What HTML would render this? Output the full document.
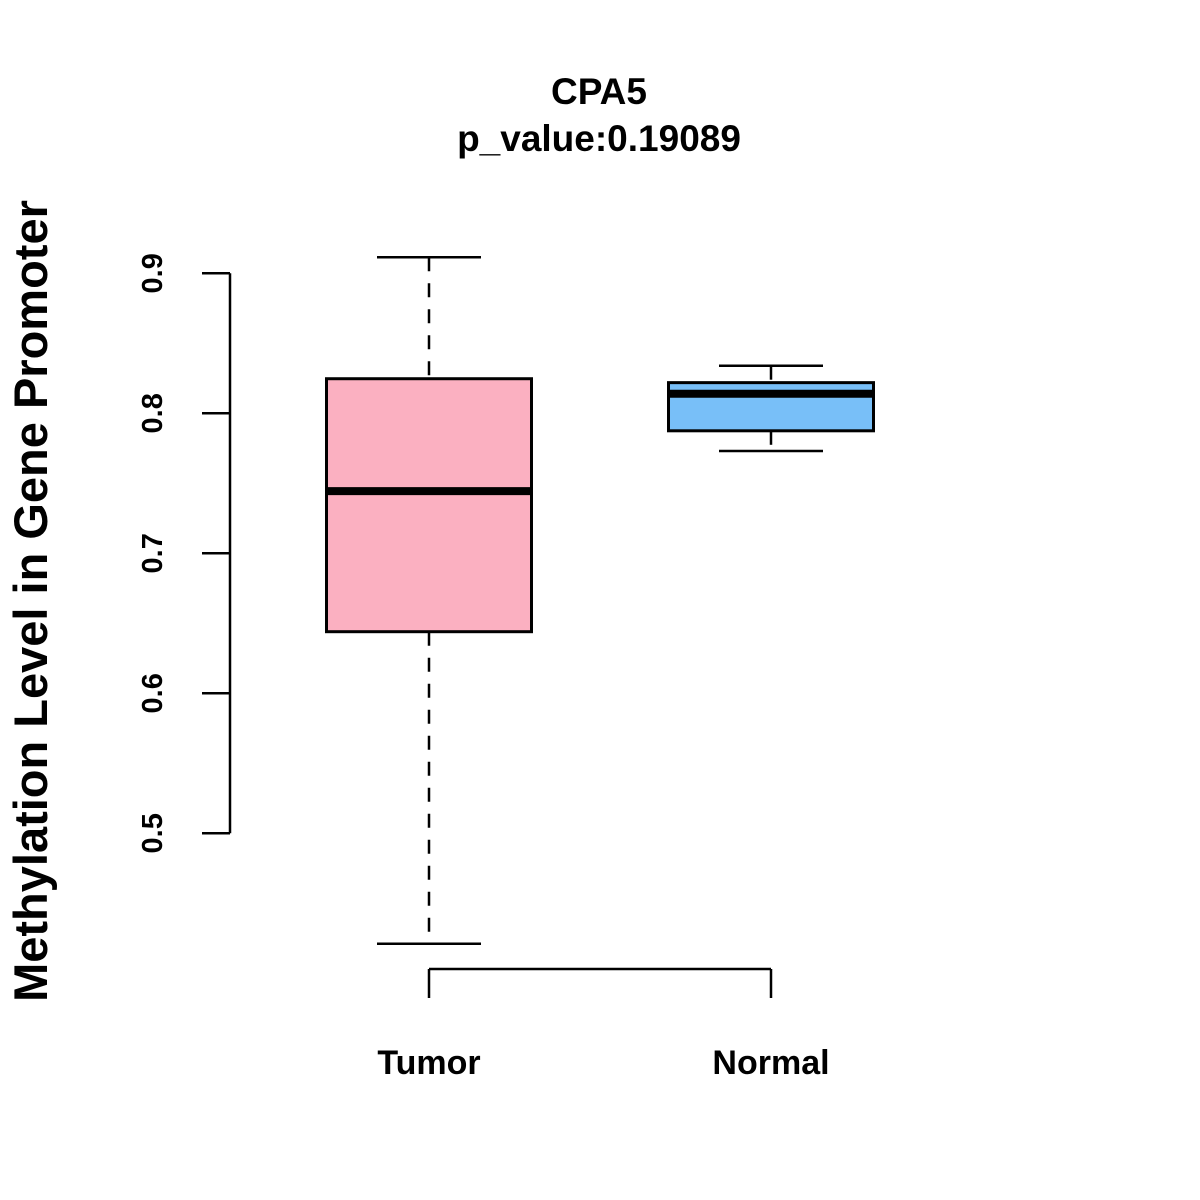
<!DOCTYPE html>
<html><head><meta charset="utf-8"><style>body{margin:0;background:#fff}svg{display:block}text{font-family:"Liberation Sans",Arial,sans-serif;font-weight:bold;fill:#000}</style></head>
<body>
<svg id="chart" width="1200" height="1200" xmlns="http://www.w3.org/2000/svg">
<text x="599" y="104" font-size="37" text-anchor="middle">CPA5</text>
<text x="599" y="151" font-size="37" text-anchor="middle">p_value:0.19089</text>
<text transform="translate(47,601) rotate(-90)" font-size="47" text-anchor="middle">Methylation Level in Gene Promoter</text>
<g id="yaxis"></g>
<g id="xaxis"></g>
<g id="boxes"></g>
</svg>
<script>
const categories=["Tumor","Normal"];
const whiskerLow=[0.4211,0.7731];
const q1=[0.644,0.7875];
const median=[0.7444,0.814];
const q3=[0.8247,0.8219];
const whiskerHigh=[0.9115,0.834];
const fills=["#FBB0C1","#78BFF8"];
const yTicks=[0.5,0.6,0.7,0.8,0.9];
const NS="http://www.w3.org/2000/svg";
const y=v=>273.3+(0.9-v)*1400;
const x=i=>429+i*342;
function mk(tag,attrs,parent){const e=document.createElementNS(NS,tag);for(const k in attrs)e.setAttribute(k,attrs[k]);parent.appendChild(e);return e;}
const ya=document.getElementById('yaxis');
mk('line',{x1:230,x2:230,y1:y(yTicks[yTicks.length-1]),y2:y(yTicks[0]),stroke:'#000','stroke-width':2.5},ya);
yTicks.forEach(t=>{
 const l=mk('line',{x1:202,x2:230,y1:y(t),y2:y(t),stroke:'#000','stroke-width':2.5},ya);
 
 
 const tx=mk('text',{transform:`translate(162,${y(t)}) rotate(-90)`,'font-size':29,'text-anchor':'middle'},ya);
 tx.textContent=t.toFixed(1);
 
 
});
const xa=document.getElementById('xaxis');
mk('line',{x1:x(0),x2:x(categories.length-1),y1:969,y2:969,stroke:'#000','stroke-width':2.5},xa);
categories.forEach((c,i)=>{
 const l=mk('line',{x1:x(i),x2:x(i),y1:969,y2:998,stroke:'#000','stroke-width':2.5},xa);
 
 
 const t=mk('text',{x:x(i),y:1074,'font-size':34,'text-anchor':'middle'},xa);
 t.textContent=c;
 
 
});
const bx=document.getElementById('boxes');
categories.forEach((c,i)=>{
 const g=mk('g',{},bx);
 
 
 const cx=x(i),hw=102.5,cw=52;
 mk('line',{x1:cx,x2:cx,y1:y(whiskerHigh[i]),y2:y(q3[i]),stroke:'#000','stroke-width':2.5,'stroke-dasharray':'14,12'},g);
 mk('line',{x1:cx,x2:cx,y1:y(q1[i]),y2:y(whiskerLow[i]),stroke:'#000','stroke-width':2.5,'stroke-dasharray':'14,12'},g);
 mk('line',{x1:cx-cw,x2:cx+cw,y1:y(whiskerHigh[i]),y2:y(whiskerHigh[i]),stroke:'#000','stroke-width':2.5},g);
 mk('line',{x1:cx-cw,x2:cx+cw,y1:y(whiskerLow[i]),y2:y(whiskerLow[i]),stroke:'#000','stroke-width':2.5},g);
 mk('rect',{x:cx-hw,y:y(q3[i]),width:hw*2,height:y(q1[i])-y(q3[i]),fill:fills[i],stroke:'#000','stroke-width':3},g);
 mk('line',{x1:cx-hw,x2:cx+hw,y1:y(median[i]),y2:y(median[i]),stroke:'#000','stroke-width':8},g);
});
</script>
</body></html>
